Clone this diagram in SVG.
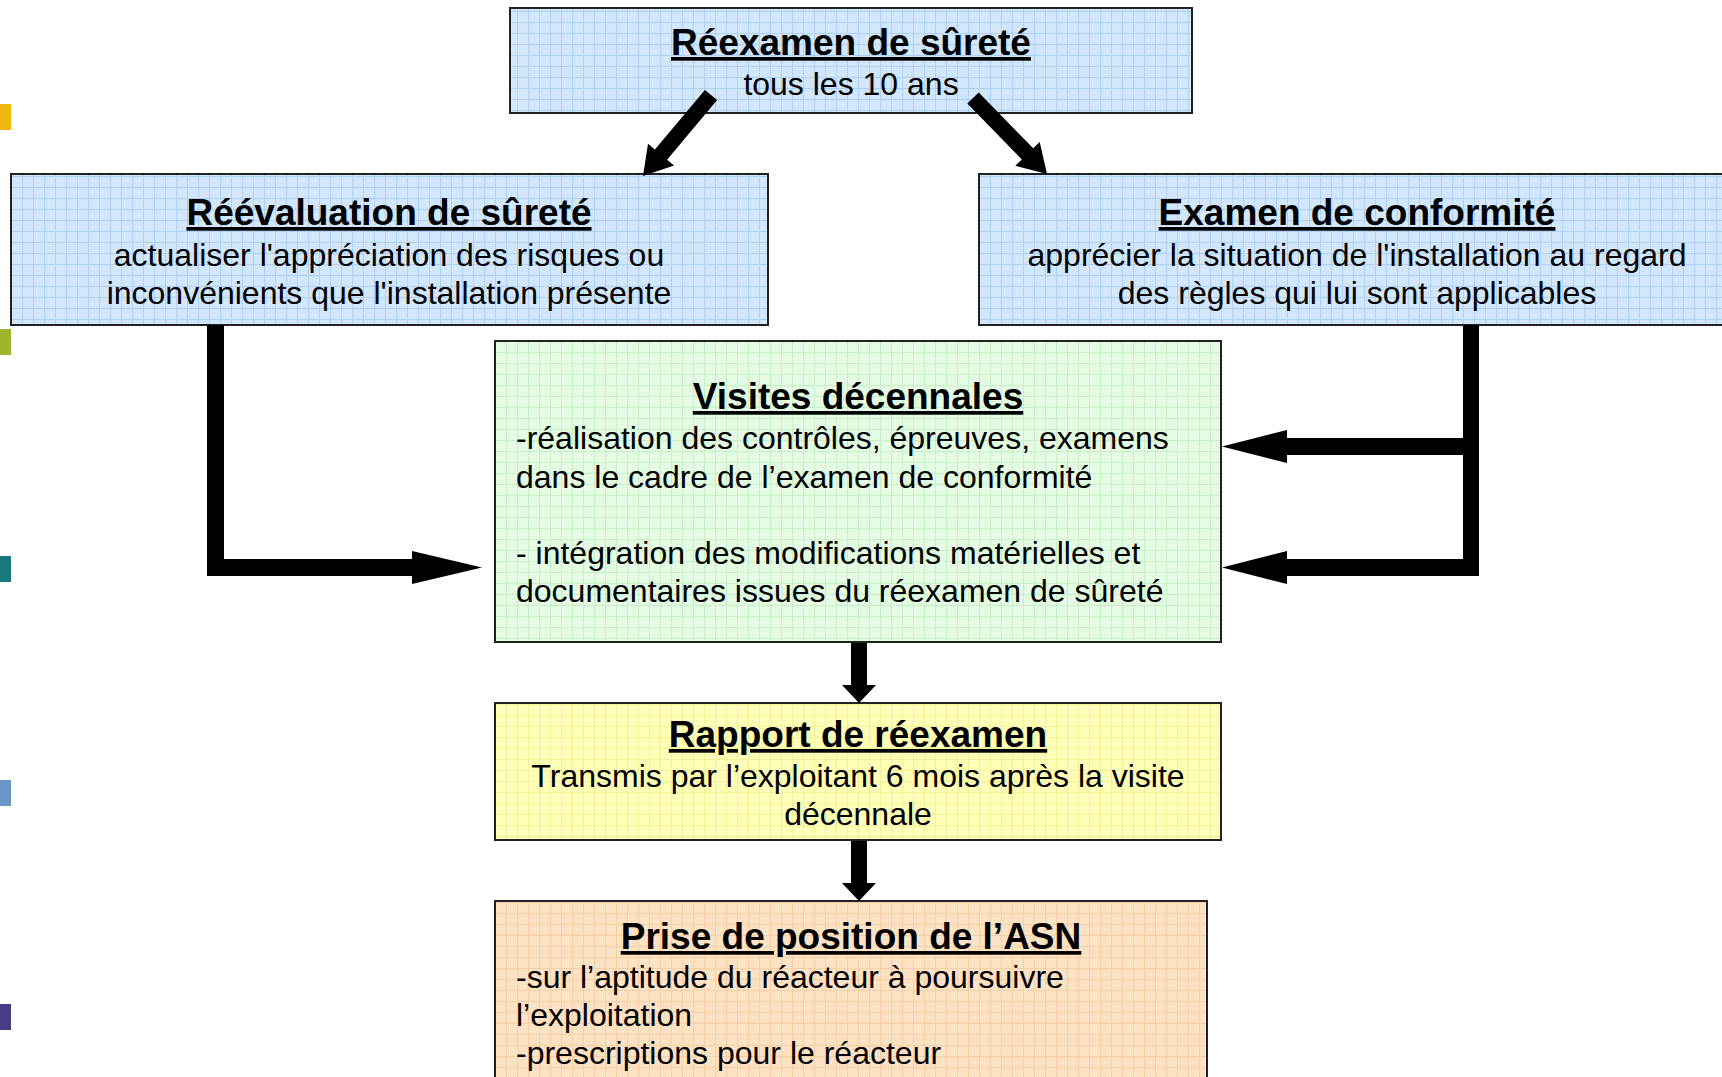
<svg xmlns="http://www.w3.org/2000/svg" width="1722" height="1077" viewBox="0 0 1722 1077">
  <defs>
    <pattern id="gBlue" width="11" height="11" patternUnits="userSpaceOnUse">
      <rect width="11" height="11" fill="#d2e6fc"/>
      <path d="M0 0.5H11M0.5 0V11" stroke="#aed0f7" stroke-width="1"/>
    </pattern>
    <pattern id="gGreen" width="11" height="11" patternUnits="userSpaceOnUse">
      <rect width="11" height="11" fill="#e4fbe4"/>
      <path d="M0 0.5H11M0.5 0V11" stroke="#c9efc9" stroke-width="1"/>
    </pattern>
    <pattern id="gYellow" width="11" height="11" patternUnits="userSpaceOnUse">
      <rect width="11" height="11" fill="#ffffb8"/>
      <path d="M0 0.5H11M0.5 0V11" stroke="#f1f19c" stroke-width="1"/>
    </pattern>
    <pattern id="gOrange" width="11" height="11" patternUnits="userSpaceOnUse">
      <rect width="11" height="11" fill="#fde2c4"/>
      <path d="M0 0.5H11M0.5 0V11" stroke="#f6cfa6" stroke-width="1"/>
    </pattern>
  </defs>
  <style>
    .box { stroke: #222; stroke-width: 2; }
    .title { font-family: "Liberation Sans", Arial, sans-serif; font-weight: bold; font-size: 37px; fill: #000; text-decoration: underline; text-decoration-thickness: 3px; text-underline-offset: 5px; }
    .body { font-family: "Liberation Sans", Arial, sans-serif; font-size: 32px; fill: #000; }
    .c { text-anchor: middle; }
    .arrow { fill: #000; }
  </style>
  <rect width="1722" height="1077" fill="#ffffff"/>

  <g id="side-marks">
    <rect x="0" y="104" width="11" height="26" fill="#f2b70c"/>
    <rect x="0" y="329" width="11" height="26" fill="#9cb62c"/>
    <rect x="0" y="556" width="11" height="26" fill="#18787a"/>
    <rect x="0" y="780" width="11" height="26" fill="#6b94c9"/>
    <rect x="0" y="1004" width="11" height="26" fill="#4b3b86"/>
  </g>

  <g id="reexamen">
    <rect class="box" x="510" y="8" width="682" height="105" fill="url(#gBlue)"/>
    <text class="title c" x="851" y="55">Réexamen de sûreté</text>
    <text class="body c" x="851" y="95">tous les 10 ans</text>
  </g>

  <g id="reevaluation">
    <rect class="box" x="11" y="174" width="757" height="151" fill="url(#gBlue)"/>
    <text class="title c" x="389" y="225">Réévaluation de sûreté</text>
    <text class="body c" x="389" y="266">actualiser l'appréciation des risques ou</text>
    <text class="body c" x="389" y="304">inconvénients que l'installation présente</text>
  </g>

  <g id="conformite">
    <rect class="box" x="979" y="174" width="770" height="151" fill="url(#gBlue)"/>
    <text class="title c" x="1357" y="225">Examen de conformité</text>
    <text class="body c" x="1357" y="266">apprécier la situation de l'installation au regard</text>
    <text class="body c" x="1357" y="304">des règles qui lui sont applicables</text>
  </g>

  <g id="visites">
    <rect class="box" x="495" y="341" width="726" height="301" fill="url(#gGreen)"/>
    <text class="title c" x="858" y="409">Visites décennales</text>
    <text class="body" x="516" y="449">-réalisation des contrôles, épreuves, examens</text>
    <text class="body" x="516" y="488">dans le cadre de l’examen de conformité</text>
    <text class="body" x="516" y="564">- intégration des modifications matérielles et</text>
    <text class="body" x="516" y="602">documentaires issues du réexamen de sûreté</text>
  </g>

  <g id="rapport">
    <rect class="box" x="495" y="703" width="726" height="137" fill="url(#gYellow)"/>
    <text class="title c" x="858" y="747">Rapport de réexamen</text>
    <text class="body c" x="858" y="787">Transmis par l’exploitant 6 mois après la visite</text>
    <text class="body c" x="858" y="825">décennale</text>
  </g>

  <g id="asn">
    <rect class="box" x="495" y="901" width="712" height="190" fill="url(#gOrange)"/>
    <text class="title c" x="851" y="949">Prise de position de l’ASN</text>
    <text class="body" x="516" y="988">-sur l’aptitude du réacteur à poursuivre</text>
    <text class="body" x="516" y="1026">l’exploitation</text>
    <text class="body" x="516" y="1064">-prescriptions pour le réacteur</text>
  </g>

  <g id="connectors">
    <polygon class="arrow" points="704.9,89.9 717.1,100.1 667.1,159.7 674.0,165.5 643,176 648.0,143.7 654.9,149.5"/>
    <polygon class="arrow" points="978.7,92.4 967.3,103.6 1021.8,159.5 1015.3,165.8 1047,174 1039.7,142.0 1033.2,148.3"/>
    <polygon class="arrow" points="207,325 224,325 224,559 412,559 412,551 482,567.5 412,584 412,576 207,576"/>
    <polygon class="arrow" points="1463,325 1479,325 1479,576 1287,576 1287,584 1222,567.5 1287,551 1287,559 1463,559 1463,455 1287,455 1287,463 1222,446.5 1287,430 1287,438 1463,438"/>
    <polygon class="arrow" points="851,643 867,643 867,685 876,685 859,703 842,685 851,685"/>
    <polygon class="arrow" points="851,841 867,841 867,883 876,883 859,901 842,883 851,883"/>
  </g>
</svg>
